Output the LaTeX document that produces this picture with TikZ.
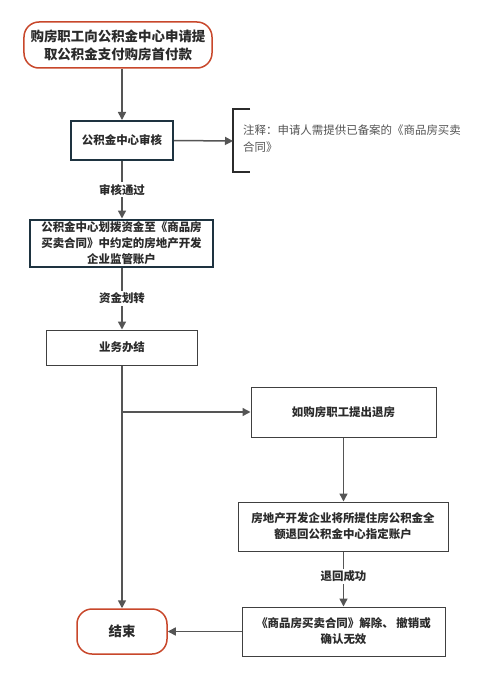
\documentclass[tikz,border=0pt]{standalone}
\usepackage{fontspec}
\newfontfamily\cjk{Noto Sans CJK SC}
\usetikzlibrary{arrows.meta}
\definecolor{redc}{HTML}{C8472B}
\definecolor{darkc}{HTML}{1E3340}
\definecolor{linec}{HTML}{555555}
\definecolor{textc}{HTML}{2B2B2B}
\definecolor{notec}{HTML}{555555}
\begin{document}
\begin{tikzpicture}[x=1bp,y=-1bp,
  every node/.style={font=\cjk\bfseries\fontsize{11.5}{16}\selectfont, text=textc, align=center, inner sep=0pt},
  term/.style={draw=redc, line width=1.5bp, rounded corners=15bp, fill=white},
  keybox/.style={draw=darkc, line width=2bp, fill=white},
  plainbox/.style={draw=textc!90, line width=1bp, fill=white},
  conn/.style={draw=linec, line width=1.5bp, -{Triangle[length=8bp,width=8bp]}},
  lab/.style={fill=white, inner sep=2bp}]
\useasboundingbox (0,0) rectangle (500,679);
\fill[white] (0,0) rectangle (500,679);

\node[term, minimum width=188bp, minimum height=46bp, font=\cjk\bfseries\fontsize{13.5}{18}\selectfont] (start) at (118,45) {购房职工向公积金中心申请提\\取公积金支付购房首付款};
\node[keybox, minimum width=102bp, minimum height=39bp] (audit) at (122,140.5) {公积金中心审核};
\node[keybox, minimum width=183bp, minimum height=47bp] (fund) at (121.5,243) {公积金中心划拨资金至《商品房\\买卖合同》中约定的房地产开发\\企业监管账户};
\node[plainbox, minimum width=150bp, minimum height=35bp] (done) at (122,347.5) {业务办结};
\node[plainbox, minimum width=185bp, minimum height=50bp] (refund) at (343.5,412) {如购房职工提出退房};
\node[plainbox, minimum width=210bp, minimum height=49bp] (back) at (343,526.5) {房地产开发企业将所提住房公积金全\\额退回公积金中心指定账户};
\node[plainbox, minimum width=203bp, minimum height=49bp] (cancel) at (343.5,631.5) {《商品房买卖合同》解除、 撤销或\\确认无效};
\node[term, minimum width=90bp, minimum height=45bp, font=\cjk\bfseries\fontsize{13.5}{18}\selectfont] (end) at (122,631.5) {结束};

% note bracket
\coordinate (bt) at (250,109);
\coordinate (bm) at (233,141);
\coordinate (bb) at (250,172);
\draw[draw=textc, line width=1.5bp] (bt) -- (bt -| bm) -- (bb -| bm) -- (bb);
\node[anchor=north west, align=left, text width=235bp, font=\cjk\fontsize{11.5}{17}\selectfont, text=notec] (note) at (243,125) {注释：申请人需提供已备案的《商品房买卖\\合同》};

% connectors
\draw[conn] (audit.north |- start.south) -- (audit.north);
\draw[conn] (audit.east) -- (bm);
\draw[conn] (audit.south) -- node[lab] (l1) {审核通过} (audit.south |- fund.north);
\draw[conn] (audit.south |- fund.south) -- node[lab] (l2) {资金划转} (done.north);
\draw[conn] (done.south) -- (end.north);
\coordinate (br) at (122,412);
\draw[conn] (br) -- (refund.west);
\draw[conn] (refund.south) -- (refund.south |- back.north);
\draw[conn] (refund.south |- back.south) -- node[lab, pos=0.45] (l3) {退回成功} (refund.south |- cancel.north);
\draw[conn] (cancel.west) -- (end.east);
\end{tikzpicture}
\end{document}
